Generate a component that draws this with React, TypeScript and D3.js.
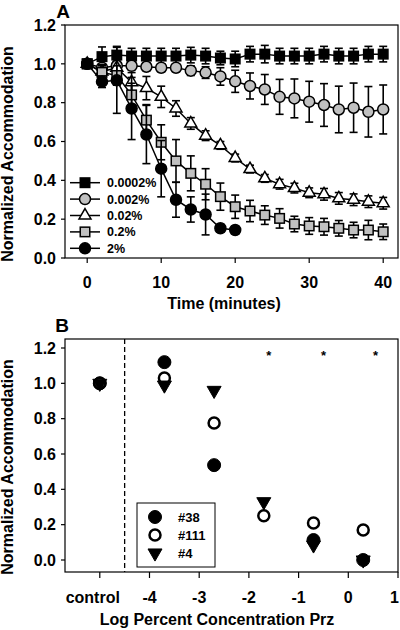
import React from 'react';
import * as d3 from 'd3';

// ---------- Panel A data ----------
const times = [0, 2, 4, 6, 8, 10, 12, 14, 16, 18, 20, 22, 24, 26, 28, 30, 32, 34, 36, 38, 40];
const seriesNames = ['0.0002%', '0.002%', '0.02%', '0.2%', '2%'];

const v0002 = [1.0, 1.037, 1.045, 1.04, 1.04, 1.04, 1.04, 1.045, 1.04, 1.03, 1.025, 1.05, 1.05, 1.04, 1.04, 1.04, 1.05, 1.04, 1.04, 1.05, 1.05];
const e0002 = [0, 0.05, 0.045, 0.04, 0.04, 0.04, 0.04, 0.04, 0.04, 0.035, 0.04, 0.04, 0.045, 0.04, 0.04, 0.04, 0.04, 0.04, 0.04, 0.04, 0.04];

const v002 = [1.0, 0.98, 0.99, 0.99, 0.985, 0.98, 0.98, 0.965, 0.955, 0.935, 0.91, 0.886, 0.868, 0.83, 0.822, 0.805, 0.788, 0.765, 0.774, 0.753, 0.765];
const e002 = [0, 0.02, 0.02, 0.02, 0.02, 0.02, 0.02, 0.025, 0.03, 0.045, 0.057, 0.067, 0.077, 0.09, 0.1, 0.105, 0.11, 0.12, 0.127, 0.13, 0.126];

const v02 = [1.0, 0.96, 0.98, 0.905, 0.875, 0.83, 0.77, 0.693, 0.63, 0.58, 0.515, 0.458, 0.41, 0.38, 0.36, 0.336, 0.328, 0.307, 0.3, 0.29, 0.282];
const e02 = [0, 0.03, 0.04, 0.05, 0.06, 0.055, 0.04, 0.03, 0.025, 0.02, 0.02, 0.02, 0.02, 0.025, 0.025, 0.025, 0.03, 0.03, 0.03, 0.03, 0.03];

const v2 = [1.0, 0.956, 0.94, 0.84, 0.71, 0.596, 0.5, 0.436, 0.38, 0.316, 0.264, 0.242, 0.221, 0.204, 0.175, 0.165, 0.161, 0.153, 0.144, 0.144, 0.135];
const e2 = [0, 0.04, 0.05, 0.06, 0.08, 0.09, 0.11, 0.09, 0.08, 0.07, 0.06, 0.055, 0.048, 0.05, 0.04, 0.043, 0.043, 0.04, 0.04, 0.05, 0.04];

const v20 = [1.0, 0.908, 0.915, 0.77, 0.636, 0.46, 0.3, 0.25, 0.224, 0.153, 0.144, null, null, null, null, null, null, null, null, null, null];
const e20 = [0, 0.03, 0.17, 0.16, 0.15, 0.145, 0.09, 0.065, 0.105, 0.02, 0.02, null, null, null, null, null, null, null, null, null, null];

const xTicksA = [0, 10, 20, 30, 40];
const yTicks = [0, 0.2, 0.4, 0.6, 0.8, 1.0, 1.2];

// ---------- Panel B data ----------
const concX = [-5, -3.7, -2.7, -1.7, -0.7, 0.3];
const animalNames = ['#38', '#111', '#4'];
const b38 = [1.0, 1.12, 0.537, null, 0.113, 0.0];
const b111 = [1.0, 1.03, 0.776, 0.25, 0.21, 0.17];
const b4 = [1.0, 0.99, 0.96, 0.33, 0.085, 0.0];
const xTicksB = [-5, -4, -3, -2, -1, 0, 1];
const xTickLabelsB = ['control', '-4', '-3', '-2', '-1', '0', '1'];
const starX = [-1.6, -0.5, 0.55];
const starY = 1.17;
const dividerX = -4.5;

const FONT = '"Liberation Sans", Arial, Helvetica, sans-serif';
const GREY = '#c0c0c0';

type Shape = 'square' | 'circle' | 'triUp' | 'triDown';

function Marker({ shape, x, y, fill, size, sw = 1.5 }: { shape: Shape; x: number; y: number; fill: string; size: number; sw?: number }) {
  if (shape === 'square') {
    return <rect x={x - size / 2} y={y - size / 2} width={size} height={size} fill={fill} stroke="#000" strokeWidth={sw} />;
  }
  if (shape === 'circle') {
    return <circle cx={x} cy={y} r={size / 2} fill={fill} stroke="#000" strokeWidth={sw} />;
  }
  const h = size * 0.866;
  if (shape === 'triUp') {
    const p = `M${x},${y - (2 * h) / 3}L${x + size / 2},${y + h / 3}L${x - size / 2},${y + h / 3}Z`;
    return <path d={p} fill={fill} stroke="#000" strokeWidth={sw} />;
  }
  const p = `M${x},${y + (2 * h) / 3}L${x + size / 2},${y - h / 3}L${x - size / 2},${y - h / 3}Z`;
  return <path d={p} fill={fill} stroke="#000" strokeWidth={sw} />;
}

const seriesA = [
  { name: seriesNames[0], v: v0002, e: e0002, shape: 'square' as Shape, fill: '#000', size: 9.5 },
  { name: seriesNames[1], v: v002, e: e002, shape: 'circle' as Shape, fill: GREY, size: 11 },
  { name: seriesNames[2], v: v02, e: e02, shape: 'triUp' as Shape, fill: '#fff', size: 12 },
  { name: seriesNames[3], v: v2, e: e2, shape: 'square' as Shape, fill: GREY, size: 9.5 },
  { name: seriesNames[4], v: v20, e: e20, shape: 'circle' as Shape, fill: '#000', size: 11 },
];

export default function App() {
  const xA = d3.scaleLinear().domain([-3, 42]).range([65, 398]);
  const yA = d3.scaleLinear().domain([0, 1.2]).range([258, 25]);
  const xB = d3.scaleLinear().domain([-5.7, 1]).range([65, 398]);
  const yB = d3.scaleLinear().domain([0, 1.2]).range([560, 348]);
  const fmt = d3.format('.1f');

  const line = d3
    .line<[number, number | null]>()
    .defined((d) => d[1] != null)
    .x((d) => xA(d[0]))
    .y((d) => yA(d[1] as number));

  const legendTop = 182.7;
  const legendStep = 16.4;

  return (
    <svg width={400} height={630} style={{ position: 'absolute', left: 0, top: 0, background: '#fff' }} fontFamily={FONT}>
      <rect x={0} y={0} width={400} height={630} fill="#fff" />
      {/* ================= PANEL A ================= */}
      <text x={63} y={18} fontSize={19} fontWeight="bold" textAnchor="middle">A</text>
      <rect x={65} y={25} width={333} height={233} fill="none" stroke="#000" strokeWidth={1.2} />
      {yTicks.map((t) => (
        <g key={'ya' + t}>
          <line x1={61} x2={65} y1={yA(t)} y2={yA(t)} stroke="#000" strokeWidth={1.2} />
          <text x={56} y={yA(t)} dy="0.36em" fontSize={16} fontWeight="bold" textAnchor="end">{fmt(t)}</text>
        </g>
      ))}
      {xTicksA.map((t) => (
        <g key={'xa' + t}>
          <line x1={xA(t)} x2={xA(t)} y1={258} y2={263} stroke="#000" strokeWidth={1.2} />
          <text x={xA(t)} y={288} fontSize={16} fontWeight="bold" textAnchor="middle">{t}</text>
        </g>
      ))}
      <text x={224} y={309} fontSize={16} fontWeight="bold" textAnchor="middle">Time (minutes)</text>
      <text transform="translate(13,154) rotate(-90)" fontSize={16} fontWeight="bold" textAnchor="middle">Normalized Accommodation</text>

      {seriesA.map((s, si) => {
        const pts = times.map((t, i) => [t, s.v[i]] as [number, number | null]);
        return (
          <g key={'s' + si}>
            <path d={line(pts) || ''} fill="none" stroke="#000" strokeWidth={1.5} />
            {times.map((t, i) => {
              const v = s.v[i];
              const e = s.e[i];
              if (v == null || e == null || e === 0) return null;
              const x = xA(t);
              return (
                <g key={'e' + i} stroke="#000" strokeWidth={1.6}>
                  <line x1={x} x2={x} y1={yA(v + e)} y2={yA(v - e)} />
                  <line x1={x - 4} x2={x + 4} y1={yA(v + e)} y2={yA(v + e)} />
                  <line x1={x - 4} x2={x + 4} y1={yA(v - e)} y2={yA(v - e)} />
                </g>
              );
            })}
            {times.map((t, i) => {
              const v = s.v[i];
              if (v == null) return null;
              return <Marker key={'m' + i} shape={s.shape} x={xA(t)} y={yA(v)} fill={s.fill} size={s.size} />;
            })}
          </g>
        );
      })}

      {/* Legend A */}
      {seriesA.map((s, i) => {
        const y = legendTop + i * legendStep;
        return (
          <g key={'la' + i}>
            <line x1={70} x2={100} y1={y} y2={y} stroke="#000" strokeWidth={1.5} />
            <Marker shape={s.shape} x={85} y={y} fill={s.fill} size={s.size} />
            <text x={107} y={y} dy="0.36em" fontSize={12.5} fontWeight="bold">{s.name}</text>
          </g>
        );
      })}

      {/* ================= PANEL B ================= */}
      <text x={62} y={332} fontSize={19} fontWeight="bold" textAnchor="middle">B</text>
      <rect x={65} y={339} width={333} height={233} fill="none" stroke="#000" strokeWidth={1.2} />
      <line x1={xB(dividerX)} x2={xB(dividerX)} y1={339} y2={572} stroke="#000" strokeWidth={1.3} strokeDasharray="5,3" />
      {yTicks.map((t) => (
        <g key={'yb' + t}>
          <line x1={61} x2={65} y1={yB(t)} y2={yB(t)} stroke="#000" strokeWidth={1.2} />
          <text x={56} y={yB(t)} dy="0.36em" fontSize={16} fontWeight="bold" textAnchor="end">{fmt(t)}</text>
        </g>
      ))}
      {xTicksB.map((t, i) => {
        const last = i === xTicksB.length - 1;
        return (
          <g key={'xb' + t}>
            <line x1={xB(t)} x2={xB(t)} y1={572} y2={578} stroke="#000" strokeWidth={1.2} />
            <text
              x={last ? 399 : xB(t) - (i === 0 ? 7 : 0)}
              y={603}
              fontSize={16}
              fontWeight="bold"
              textAnchor={last ? 'end' : 'middle'}
            >
              {xTickLabelsB[i]}
            </text>
          </g>
        );
      })}
      <text x={217} y={625} fontSize={16} fontWeight="bold" textAnchor="middle">Log Percent Concentration Prz</text>
      <text transform="translate(13,467) rotate(-90)" fontSize={16} fontWeight="bold" textAnchor="middle">Normalized Accommodation</text>

      {starX.map((sx, i) => (
        <text key={'st' + i} x={xB(sx)} y={yB(starY) + 7} fontSize={13} fontWeight="bold" textAnchor="middle">*</text>
      ))}

      {concX.map((c, i) => (b38[i] == null ? null : <Marker key={'b38' + i} shape="circle" x={xB(c)} y={yB(b38[i] as number)} fill="#000" size={13} sw={1} />))}
      {concX.map((c, i) => (b111[i] == null ? null : <Marker key={'b111' + i} shape="circle" x={xB(c)} y={yB(b111[i] as number)} fill="#fff" size={11} sw={2.5} />))}
      {concX.map((c, i) => (b4[i] == null ? null : <Marker key={'b4' + i} shape="triDown" x={xB(c)} y={yB(b4[i] as number)} fill="#000" size={14} sw={1} />))}

      {/* Legend B */}
      <rect x={137} y={503} width={78} height={64} fill="#fff" stroke="#000" strokeWidth={1} />
      {animalNames.map((n, i) => {
        const y = 517 + i * 18;
        const shape: Shape = i === 2 ? 'triDown' : 'circle';
        return (
          <g key={'lb' + i}>
            <Marker shape={shape} x={155} y={y} fill={i === 1 ? '#fff' : '#000'} size={i === 1 ? 11 : i === 2 ? 14 : 13} sw={i === 1 ? 2.5 : 1} />
            <text x={178} y={y} dy="0.36em" fontSize={13} fontWeight="bold">{n}</text>
          </g>
        );
      })}
    </svg>
  );
}
